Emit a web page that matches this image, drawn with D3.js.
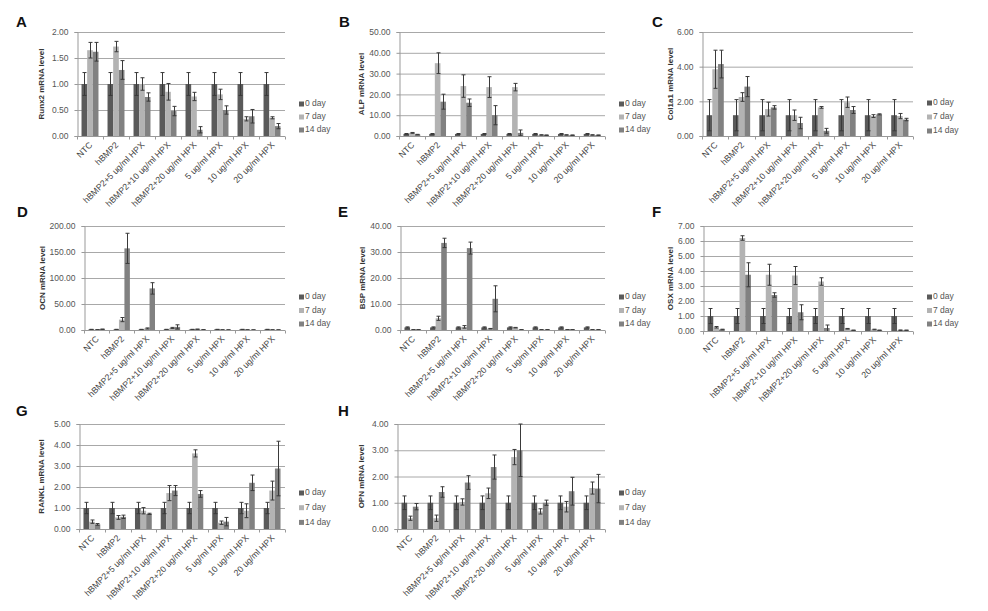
<!DOCTYPE html>
<html><head><meta charset="utf-8">
<script src="https://cdn.jsdelivr.net/npm/d3@7"></script>
<style>body{margin:0;background:#fff}svg{display:block}</style>
</head><body>
<svg id="c" width="988" height="611"></svg>
<script>
const categories = ["NTC","hBMP2","hBMP2+5 ug/ml HPX","hBMP2+10 ug/ml HPX","hBMP2+20 ug/ml HPX","5 ug/ml HPX","10 ug/ml HPX","20 ug/ml HPX"];
const seriesNames = ["0 day","7 day","14 day"];

// Runx2 (A)
const runx2Values = [[1,1,1,1,1,1,1,1],[1.65,1.72,1.00,0.85,0.76,0.80,0.33,0.35],[1.62,1.27,0.75,0.48,0.12,0.50,0.38,0.19]];
const runx2Errors = [[0.22,0.22,0.22,0.22,0.22,0.22,0.22,0.22],[0.15,0.10,0.12,0.16,0.08,0.10,0.04,0.02],[0.18,0.18,0.08,0.09,0.06,0.08,0.13,0.05]];
const runx2Ticks = [0,0.5,1,1.5,2];
// ALP (B)
const alpValues = [[1,1,1,1,1,1,1,1],[1.5,35,24,23.5,23.5,0.5,0.5,0.5],[0.7,16.5,16,10,1.5,0.4,0.4,0.4]];
const alpErrors = [[0.2,0.2,0.2,0.2,0.2,0.2,0.2,0.2],[0.2,5,5.4,5,1.8,0.1,0.1,0.1],[0.1,3.6,1.8,4.6,1.4,0.1,0.1,0.1]];
const alpTicks = [0,10,20,30,40,50];
// Col1a1 (C)
const colValues = [[1.2,1.2,1.2,1.2,1.2,1.2,1.2,1.2],[3.85,2.25,1.55,1.2,1.65,1.95,1.15,1.15],[4.15,2.85,1.65,0.75,0.3,1.5,1.25,0.95]];
const colErrors = [[0.9,0.9,0.9,0.9,0.9,0.9,0.9,0.9],[1.1,0.25,0.4,0.3,0.05,0.3,0.08,0.15],[0.8,0.58,0.1,0.33,0.14,0.2,0.03,0.07]];
const colTicks = [0,2,4,6];
// OCN (D)
const ocnValues = [[1,1,1,1,1,1,1,1],[0.5,20,3,4,1.5,0.3,0.3,0.3],[1.5,157,80,6,0.5,0.2,0.2,0.2]];
const ocnErrors = [[0.3,0.3,0.3,0.3,0.3,0.3,0.3,0.3],[0.2,4,1,1,0.3,0.1,0.1,0.1],[0.3,29,11,4,0.2,0.1,0.1,0.1]];
const ocnTicks = [0,50,100,150,200];
// BSP (E)
const bspValues = [[1,1,1,1,1,1,1,1],[0.1,4.5,1.2,0.5,0.9,0.1,0.1,0.1],[0.1,33.5,31.5,12,0.1,0.1,0.1,0.1]];
const bspErrors = [[0.2,0.2,0.2,0.2,0.2,0.2,0.2,0.2],[0.05,0.8,0.5,0.1,0.1,0.05,0.05,0.05],[0.05,1.8,2.3,5,0.05,0.05,0.05,0.05]];
const bspTicks = [0,10,20,30,40];
// OSX (F)
const osxValues = [[1,1,1,1,1,1,1,1],[0.25,6.2,3.75,3.7,3.3,0.15,0.1,0.05],[0.1,3.75,2.4,1.25,0.2,0.05,0.05,0.05]];
const osxErrors = [[0.5,0.5,0.5,0.5,0.5,0.5,0.5,0.5],[0.05,0.15,0.7,0.6,0.25,0.02,0.02,0.02],[0.02,0.8,0.15,0.5,0.2,0.01,0.01,0.01]];
const osxTicks = [0,1,2,3,4,5,6,7];
// RANKL (G)
const ranklValues = [[1,1,1,1,1,1,1,1],[0.35,0.55,0.87,1.71,3.6,0.3,0.87,1.83],[0.22,0.58,0.72,1.83,1.67,0.35,2.2,2.88]];
const ranklErrors = [[0.27,0.27,0.27,0.27,0.27,0.27,0.27,0.27],[0.08,0.09,0.15,0.36,0.17,0.08,0.33,0.45],[0.04,0.08,0.03,0.24,0.16,0.2,0.37,1.3]];
const ranklTicks = [0,1,2,3,4,5];
// OPN (H)
const opnValues = [[1,1,1,1,1,1,1,1],[0.41,0.41,1.03,1.36,2.74,0.67,0.85,1.56],[0.85,1.41,1.77,2.36,3.0,1.0,1.44,1.54]];
const opnErrors = [[0.26,0.26,0.26,0.26,0.26,0.26,0.26,0.26],[0.08,0.12,0.12,0.2,0.29,0.1,0.2,0.23],[0.12,0.2,0.26,0.46,1.0,0.1,0.53,0.54]];
const opnTicks = [0,1,2,3,4];

const colors = ["#5a5a5a","#b3b3b3","#818181"];

const panels = [
  {letter:"A", title:"Runx2 mRNA level", values:runx2Values, errors:runx2Errors, ticks:runx2Ticks, x0:77, x1:285, yTop:32, yBase:136, lx:16, ly:27, tx:42, legX:299, legY:104, legDy:13},
  {letter:"B", title:"ALP mRNA  level", values:alpValues, errors:alpErrors, ticks:alpTicks, x0:399, x1:605, yTop:32, yBase:136, lx:339, ly:27, tx:362, legX:619, legY:104, legDy:13},
  {letter:"C", title:"Col1a1 mRNA level", values:colValues, errors:colErrors, ticks:colTicks, x0:702, x1:913, yTop:32, yBase:136, lx:652, ly:27, tx:671, legX:927, legY:103, legDy:14},
  {letter:"D", title:"OCN mRNA level", values:ocnValues, errors:ocnErrors, ticks:ocnTicks, x0:84, x1:285, yTop:226, yBase:330, lx:17, ly:217, tx:43, legX:299, legY:297, legDy:13.5},
  {letter:"E", title:"BSP mRNA level", values:bspValues, errors:bspErrors, ticks:bspTicks, x0:400, x1:605, yTop:226, yBase:330, lx:338, ly:217, tx:363, legX:619, legY:297, legDy:13.5},
  {letter:"F", title:"OSX mRNA level", values:osxValues, errors:osxErrors, ticks:osxTicks, x0:703, x1:913, yTop:226, yBase:331, lx:652, ly:217, tx:671, legX:927, legY:297, legDy:13.5},
  {letter:"G", title:"RANKL  mRNA level", values:ranklValues, errors:ranklErrors, ticks:ranklTicks, x0:79, x1:285, yTop:424, yBase:529, lx:16, ly:416, tx:42, legX:299, legY:493, legDy:14.7},
  {letter:"H", title:"OPN mRNA level", values:opnValues, errors:opnErrors, ticks:opnTicks, x0:397, x1:605, yTop:424, yBase:529, lx:338, ly:416, tx:362, legX:619, legY:493, legDy:14.7}
];

const svg = d3.select("#c");
const font = "'Liberation Sans', Arial, sans-serif";
const fmt = d3.format(".2f");

panels.forEach(p => {
  const g = svg.append("g");
  const x = d3.scaleBand().domain(categories).range([p.x0, p.x1]).paddingInner(0).paddingOuter(0);
  const xs = d3.scaleBand().domain(d3.range(3)).range([0, x.bandwidth()]).paddingInner(0).paddingOuter(0.8);
  const y = d3.scaleLinear().domain([0, d3.max(p.ticks)]).range([p.yBase, p.yTop]);

  g.append("g").selectAll("line").data(p.ticks.slice(1)).join("line")
    .attr("x1", p.x0).attr("x2", p.x1)
    .attr("y1", d => y(d)+0.5).attr("y2", d => y(d)+0.5)
    .attr("stroke", "#a8a8a8").attr("stroke-width", 1);

  const ya = g.append("g").attr("transform", `translate(${p.x0+0.5},0)`)
    .call(d3.axisLeft(y).tickValues(p.ticks).tickFormat(fmt).tickSize(3).tickPadding(6));
  ya.select(".domain").attr("stroke", "#999");
  ya.selectAll(".tick line").attr("stroke", "#999");
  ya.selectAll("text").attr("font-family", font).attr("font-size", 8.5).attr("fill", "#555");

  p.values.forEach((vals, s) => {
    g.append("g").selectAll("rect").data(vals).join("rect")
      .attr("x", (d,i) => x(categories[i]) + xs(s))
      .attr("width", xs.bandwidth())
      .attr("y", d => y(d))
      .attr("height", d => y(0) - y(d))
      .attr("fill", colors[s]);
  });
  p.values.forEach((vals, s) => {
    const eg = g.append("g").attr("stroke", "#3a3a3a").attr("stroke-width", 1);
    vals.forEach((v, i) => {
      const e = p.errors[s][i];
      const cx = Math.round(x(categories[i]) + xs(s) + xs.bandwidth()/2) + 0.5;
      const yt = y(v + e), yb = y(Math.max(0, v - e));
      eg.append("line").attr("x1", cx).attr("x2", cx).attr("y1", yt).attr("y2", yb);
      eg.append("line").attr("x1", cx-2).attr("x2", cx+2).attr("y1", yt).attr("y2", yt);
      if (v - e > 0) eg.append("line").attr("x1", cx-2).attr("x2", cx+2).attr("y1", yb).attr("y2", yb);
    });
  });

  const xa = g.append("g").attr("transform", `translate(0,${p.yBase+0.5})`);
  xa.append("line").attr("x1", p.x0).attr("x2", p.x1).attr("stroke", "#999");
  const bounds = categories.map(c => x(c)).concat([p.x1]);
  xa.selectAll("line.tk").data(bounds).join("line").attr("class","tk")
    .attr("x1", d => Math.round(d)+0.5).attr("x2", d => Math.round(d)+0.5)
    .attr("y1", 0).attr("y2", 3).attr("stroke", "#999");
  xa.selectAll("text").data(categories).join("text")
    .attr("transform", d => `translate(${x(d)+x.bandwidth()/2+3},${9}) rotate(-45)`)
    .attr("text-anchor", "end")
    .attr("font-family", font).attr("font-size", 8.7).attr("fill", "#444")
    .text(d => d);

  g.append("text")
    .attr("transform", `translate(${p.tx},${(p.yTop+p.yBase)/2}) rotate(-90)`)
    .attr("text-anchor", "middle").attr("dominant-baseline", "middle")
    .attr("font-family", font).attr("font-size", 8).attr("font-weight", "bold").attr("fill", "#333")
    .text(p.title);

  g.append("text").attr("x", p.lx).attr("y", p.ly)
    .attr("font-family", font).attr("font-size", 15).attr("font-weight", "bold").attr("fill", "#111")
    .text(p.letter);

  const lg = g.append("g");
  seriesNames.forEach((n, s) => {
    const yy = p.legY + s*p.legDy;
    lg.append("rect").attr("x", p.legX).attr("y", yy-2.5).attr("width", 5).attr("height", 5).attr("fill", colors[s]);
    lg.append("text").attr("x", p.legX+6).attr("y", yy).attr("dominant-baseline", "middle")
      .attr("font-family", font).attr("font-size", 8.5).attr("fill", "#555").text(n);
  });
});
</script>
</body></html>
